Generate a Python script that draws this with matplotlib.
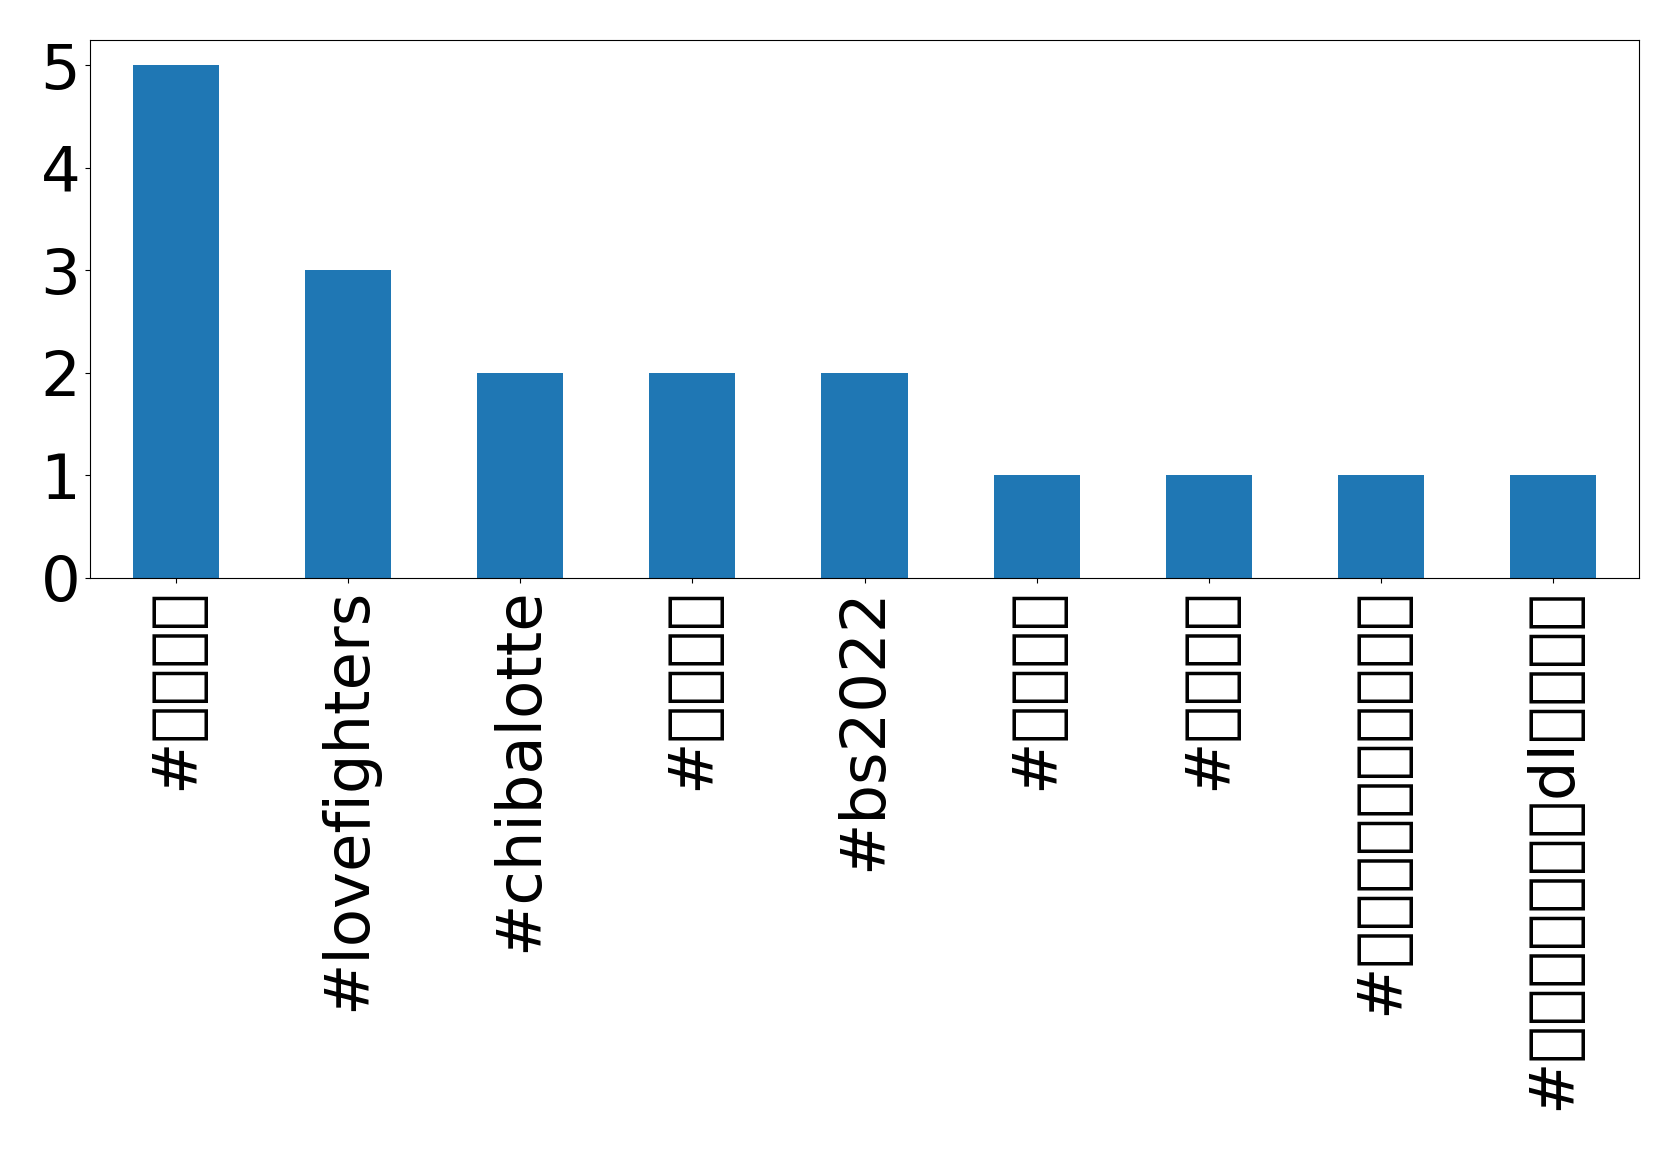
import matplotlib
matplotlib.use("Agg")
import matplotlib.pyplot as plt
import numpy as np

# The reference was rendered with DejaVu Sans, which has no Japanese glyphs,
# so the Japanese characters appear as empty boxes there; we keep that look.
plt.rcParams['font.family'] = ['DejaVu Sans']

tags = ["#プロ野球", "#lovefighters", "#chibalotte", "#日本ハム", "#bs2022",
        "#新庄監督", "#野球観戦", "#ファイターズガールズ", "#野球中継アプリdl無料配信"]
counts = [5, 3, 2, 2, 2, 1, 1, 1, 1]

fig = plt.figure(figsize=(16.79, 11.5), dpi=100)
ax = fig.add_axes([90/1679, 1 - 578/1150, (1639-90)/1679, (578-39.5)/1150])
x = np.arange(len(tags))
ax.bar(x, counts, width=0.5, color="#1f77b4")
ax.set_xlim(-0.5, len(tags) - 0.5)
ax.set_ylim(0, 5.25)
ax.set_xticks(x)
ax.set_xticklabels(tags, rotation=90)
ax.set_yticks([0, 1, 2, 3, 4, 5])
ax.tick_params(labelsize=45)
fig.savefig("out.png", dpi=100)
